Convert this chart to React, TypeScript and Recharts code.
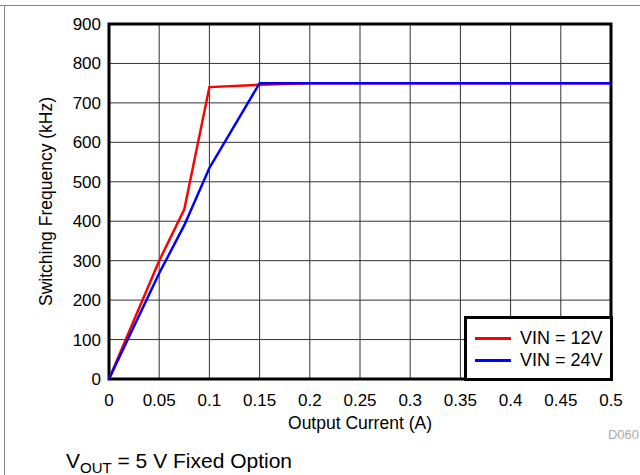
import React from 'react';
import {
  LineChart,
  Line,
  XAxis,
  YAxis,
  CartesianGrid,
  ReferenceArea,
  Label,
} from 'recharts';

const current = [0, 0.05, 0.075, 0.1, 0.15, 0.2, 0.25, 0.3, 0.35, 0.4, 0.45, 0.5];
const vin12 = [0, 300, 430, 740, 746, 750, 750, 750, 750, 750, 750, 750];
const vin24 = [0, 268, 390, 535, 750, 750, 750, 750, 750, 750, 750, 750];

const xTicks = [0, 0.05, 0.1, 0.15, 0.2, 0.25, 0.3, 0.35, 0.4, 0.45, 0.5];
const yTicks = [0, 100, 200, 300, 400, 500, 600, 700, 800, 900];

const seriesNames = ['VIN = 12V', 'VIN = 24V'];
const seriesColors = ['#ff0000', '#0000ff'];

const data = current.map((c, i) => ({ current: c, v12: vin12[i], v24: vin24[i] }));

const FONT = '"Liberation Sans", Arial, Helvetica, sans-serif';

function LegendBox() {
  return (
    <div
      style={{
        position: 'absolute',
        left: 464,
        top: 316,
        width: 149,
        height: 65,
        border: '3px solid #000',
        background: '#fff',
        boxSizing: 'border-box',
        padding: '8px 0 0 8px',
        fontFamily: FONT,
        fontSize: 18,
        color: '#000',
      }}
    >
      {seriesNames.map((name, i) => (
        <div key={name} style={{ display: 'flex', alignItems: 'center', height: 22 }}>
          <span
            style={{
              display: 'inline-block',
              width: 36,
              height: 3,
              background: seriesColors[i],
              marginRight: 9,
            }}
          />
          <span>{name}</span>
        </div>
      ))}
    </div>
  );
}

export default function App() {
  return (
    <div
      style={{
        position: 'absolute',
        left: 0,
        top: 0,
        width: 640,
        height: 475,
        background: '#fff',
        fontFamily: FONT,
        overflow: 'hidden',
      }}
    >
      <div style={{ position: 'absolute', left: 0, top: 5, width: 640, height: 1, background: '#888' }} />
      <div style={{ position: 'absolute', left: 4, top: 5, width: 1, height: 470, background: '#888' }} />

      <LineChart
        width={640}
        height={475}
        data={data}
        margin={{ top: 24, right: 29, left: 49, bottom: 66 }}
        style={{ position: 'absolute', left: 0, top: 0 }}
      >
        <CartesianGrid stroke="#333" strokeWidth={1} />
        <XAxis
          dataKey="current"
          type="number"
          domain={[0, 0.5]}
          ticks={xTicks}
          interval={0}
          tickFormatter={(v: number) => String(Number(v.toFixed(2)))}
          tick={{ fontSize: 17, fill: '#000', fontFamily: FONT }}
          tickSize={0}
          tickMargin={15}
          axisLine={false}
          height={30}
        >
          <Label
            value="Output Current (A)"
            position="insideBottom"
            offset={-20}
            style={{ fontSize: 17.5, fill: '#000', fontFamily: FONT }}
          />
        </XAxis>
        <YAxis
          type="number"
          domain={[0, 900]}
          ticks={yTicks}
          interval={0}
          tick={{ fontSize: 17, fill: '#000', fontFamily: FONT }}
          tickSize={0}
          tickMargin={8}
          axisLine={false}
          width={60}
        >
          <Label
            value="Switching Frequency (kHz)"
            angle={-90}
            position="insideLeft"
            offset={-3}
            style={{ fontSize: 17.5, fill: '#000', fontFamily: FONT, textAnchor: 'middle' }}
          />
        </YAxis>
        <Line
          dataKey="v12"
          name={seriesNames[0]}
          stroke={seriesColors[0]}
          strokeWidth={2.5}
          dot={false}
          isAnimationActive={false}
        />
        <Line
          dataKey="v24"
          name={seriesNames[1]}
          stroke={seriesColors[1]}
          strokeWidth={2.5}
          dot={false}
          isAnimationActive={false}
        />
        <ReferenceArea
          x1={0}
          x2={0.5}
          y1={0}
          y2={900}
          fill="none"
          stroke="#000"
          strokeWidth={3}
          ifOverflow="visible"
        />
      </LineChart>

      <LegendBox />

      <div
        style={{
          position: 'absolute',
          right: 1,
          top: 427,
          fontSize: 13,
          color: '#aaa',
          fontFamily: FONT,
        }}
      >
        D060
      </div>
      <div
        style={{
          position: 'absolute',
          left: 66,
          top: 449,
          fontSize: 21,
          color: '#000',
          fontFamily: FONT,
          whiteSpace: 'nowrap',
        }}
      >
        V<sub style={{ fontSize: 15, verticalAlign: -5 }}>OUT</sub> = 5 V Fixed Option
      </div>
    </div>
  );
}
